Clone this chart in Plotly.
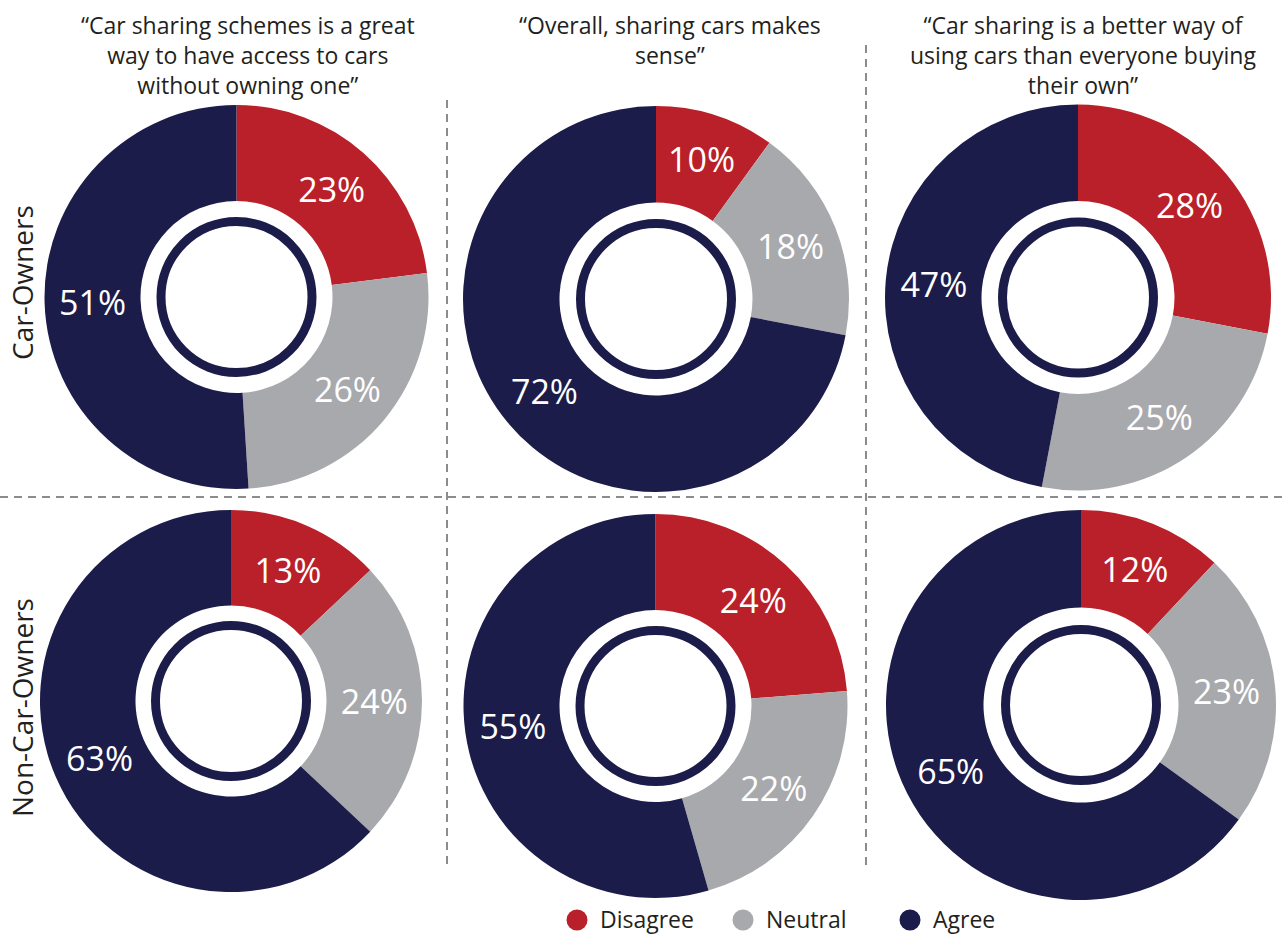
import plotly.graph_objects as go

W, H = 1287, 936

# Response categories and their colours
categories = ["Disagree", "Neutral", "Agree"]
colors = ["#BA2029", "#A8A9AD", "#1C1C4B"]

# Survey statements (column headers) and respondent groups (row headers)
statements = [
    "“Car sharing schemes is a great<br>way to have access to cars<br>without owning one”",
    "“Overall, sharing cars makes<br>sense”",
    "“Car sharing is a better way of<br>using cars than everyone buying<br>their own”",
]
groups = ["Car-Owners", "Non-Car-Owners"]

# Shares (%) in category order: Disagree, Neutral, Agree
owners_access = [23, 26, 51]
owners_sense = [10, 18, 72]
owners_better = [28, 25, 47]
non_owners_access = [13, 24, 63]
non_owners_sense = [24, 22, 55]
non_owners_better = [12, 23, 65]

grid = [
    [owners_access, owners_sense, owners_better],
    [non_owners_access, non_owners_sense, non_owners_better],
]

# Pixel layout of each donut: centre x, centre y, outer radius
pie_geom = [
    [(236.5, 297, 192), (656, 299, 193), (1078, 297.5, 193)],
    [(231, 701, 191), (655.5, 706, 192), (1081, 705, 195)],
]
HOLE = 0.5
RING_MID = 75.5      # inner decorative ring radius (stroke centre)
RING_WIDTH = 9

NAVY = colors[2]
TEXT = "#231F20"
FONT = "Open Sans"


def px_x(x):
    return x / W


def px_y(y):
    return 1 - y / H


fig = go.Figure()
shapes = []
annotations = []

for r, row in enumerate(grid):
    for c, values in enumerate(row):
        cx, cy, rad = pie_geom[r][c]
        fig.add_trace(go.Pie(
            labels=categories,
            values=values,
            marker=dict(colors=colors, line=dict(width=0)),
            hole=HOLE,
            sort=False,
            direction="clockwise",
            rotation=0,
            texttemplate="%{value}%",
            textposition="inside",
            insidetextorientation="horizontal",
            textfont=dict(family=FONT, size=34, color="white"),
            hoverinfo="skip",
            showlegend=False,
            domain=dict(
                x=[px_x(cx - rad), px_x(cx + rad)],
                y=[px_y(cy + rad), px_y(cy - rad)],
            ),
        ))
        shapes.append(dict(
            type="circle", xref="paper", yref="paper",
            x0=px_x(cx - RING_MID), x1=px_x(cx + RING_MID),
            y0=px_y(cy + RING_MID), y1=px_y(cy - RING_MID),
            line=dict(color=NAVY, width=RING_WIDTH),
            fillcolor="rgba(0,0,0,0)",
        ))

# Dashed separators
dash_line = dict(color="#8C8C8C", width=2, dash="8px,6px")
shapes.append(dict(type="line", xref="paper", yref="paper",
                   x0=0, x1=1, y0=px_y(497), y1=px_y(497), line=dash_line))
shapes.append(dict(type="line", xref="paper", yref="paper",
                   x0=px_x(447), x1=px_x(447), y0=px_y(100), y1=px_y(866), line=dash_line))
shapes.append(dict(type="line", xref="paper", yref="paper",
                   x0=px_x(866), x1=px_x(866), y0=px_y(45), y1=px_y(866), line=dash_line))

# Column headers
title_x = [248, 670, 1083]
for x, s in zip(title_x, statements):
    annotations.append(dict(
        text=s, x=px_x(x), y=px_y(7), xref="paper", yref="paper",
        xanchor="center", yanchor="top", showarrow=False, align="center",
        font=dict(family=FONT, size=23, color=TEXT),
    ))

# Row headers
row_y = [283, 708]
for y, g in zip(row_y, groups):
    annotations.append(dict(
        text=g, x=px_x(22), y=px_y(y), xref="paper", yref="paper",
        xanchor="center", yanchor="middle", showarrow=False, textangle=-90,
        font=dict(family=FONT, size=28, color=TEXT),
    ))

# Legend: coloured dots with category names
legend_x = [577, 743, 910]
legend_y = 919
dot_r = 10.5
for x, name, col in zip(legend_x, categories, colors):
    shapes.append(dict(
        type="circle", xref="paper", yref="paper",
        x0=px_x(x - dot_r), x1=px_x(x + dot_r),
        y0=px_y(legend_y + 1 + dot_r), y1=px_y(legend_y + 1 - dot_r),
        fillcolor=col, line=dict(width=0),
    ))
    annotations.append(dict(
        text=name, x=px_x(x + 21), y=px_y(legend_y), xref="paper", yref="paper",
        xanchor="left", yanchor="middle", showarrow=False,
        font=dict(family=FONT, size=23, color=TEXT),
    ))

fig.update_layout(
    width=W, height=H,
    margin=dict(l=0, r=0, t=0, b=0),
    paper_bgcolor="white", plot_bgcolor="white",
    shapes=shapes, annotations=annotations,
    showlegend=False,
)

fig.write_html("out.html")
